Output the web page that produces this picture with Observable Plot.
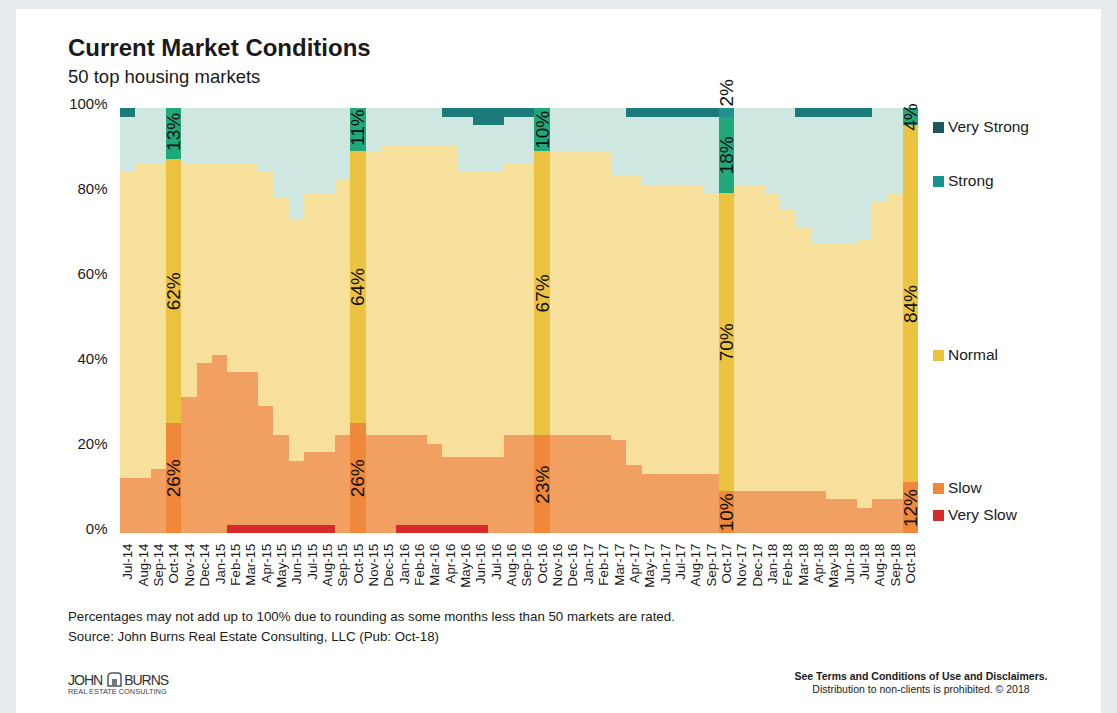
<!DOCTYPE html>
<html><head><meta charset="utf-8">
<script src="https://cdn.jsdelivr.net/npm/d3@7"></script>
<script src="https://cdn.jsdelivr.net/npm/@observablehq/plot@0.6"></script>
<style>
html,body{margin:0;padding:0;background:#e6ebf0;}
#page{position:relative;width:1117px;height:713px;overflow:hidden;font-family:"Liberation Sans",Arial,sans-serif;color:#1a1a1a;}
#card{position:absolute;left:16px;top:9px;width:1085px;height:704px;background:#fff;}
#chart{position:absolute;left:16px;top:9px;width:1085px;}
.t{position:absolute;white-space:nowrap;}
.leg{position:absolute;left:933px;height:16px;display:flex;align-items:center;font-size:15.5px;}
.leg i{display:inline-block;width:11px;height:11px;margin-right:4px;}
</style></head>
<body>
<div id="page">
  <div id="card"></div>
  <div id="chart"></div>
  <div class="t" style="left:68px;top:35.5px;font-size:24px;line-height:24px;font-weight:bold;">Current Market Conditions</div>
  <div class="t" style="left:68px;top:68px;font-size:18.5px;line-height:18.5px;">50 top housing markets</div>
  <div id="legend"></div>
  <div class="t" style="left:68px;top:610px;font-size:13.3px;line-height:13.3px;">Percentages may not add up to 100% due to rounding as some months less than 50 markets are rated.</div>
  <div class="t" style="left:68px;top:630px;font-size:13.3px;line-height:13.3px;">Source: John Burns Real Estate Consulting, LLC (Pub: Oct-18)</div>
  <div class="t" style="left:68px;top:672px;font-size:14px;line-height:14px;letter-spacing:-1px;color:#333;display:flex;align-items:center;">JOHN<svg width="16" height="15" style="margin:0 2px 0 4px"><path d="M2 14 V5 Q2 1 6 1 H12 Q15 1 15 4 V14 Z" fill="#fff" stroke="#555" stroke-width="1.5"/><path d="M6 14 V7 H11 V14" fill="#777"/></svg>BURNS</div>
  <div class="t" style="left:68px;top:688px;font-size:7.4px;line-height:7.4px;color:#444;">REAL ESTATE CONSULTING</div>
  <div class="t" style="left:921px;top:671px;font-size:10.5px;line-height:10.5px;font-weight:bold;transform:translateX(-50%);">See Terms and Conditions of Use and Disclaimers.</div>
  <div class="t" style="left:921px;top:684px;font-size:10.5px;line-height:10.5px;transform:translateX(-50%);">Distribution to non-clients is prohibited. © 2018</div>
</div>
<script>
const months = ["Jul-14","Aug-14","Sep-14","Oct-14","Nov-14","Dec-14","Jan-15","Feb-15","Mar-15","Apr-15","May-15","Jun-15","Jul-15","Aug-15","Sep-15","Oct-15",
  "Nov-15","Dec-15","Jan-16","Feb-16","Mar-16","Apr-16","May-16","Jun-16","Jul-16","Aug-16","Sep-16","Oct-16",
  "Nov-16","Dec-16","Jan-17","Feb-17","Mar-17","Apr-17","May-17","Jun-17","Jul-17","Aug-17","Sep-17","Oct-17",
  "Nov-17","Dec-17","Jan-18","Feb-18","Mar-18","Apr-18","May-18","Jun-18","Jul-18","Aug-18","Sep-18","Oct-18"];
const categories = ["Very Slow","Slow","Normal","Strong","Very Strong"];
const verySlow   = [0,0,0,0,0,0,0,2,2,2,2,2,2,2,0,0, 0,0,2,2,2,2,2,2,0,0,0,0, 0,0,0,0,0,0,0,0,0,0,0,0, 0,0,0,0,0,0,0,0,0,0,0,0];
const slow       = [13,13,15,26,32,40,42,36,36,28,21,15,17,17,23,26, 23,23,21,21,19,16,16,16,18,23,23,23, 23,23,23,23,22,16,14,14,14,14,14,10, 10,10,10,10,10,10,8,8,6,8,8,12];
const normal     = [72,74,72,62,55,47,45,49,49,55,56,57,61,61,60,64, 67,68,68,68,70,73,67,67,67,64,64,67, 67,67,67,67,62,68,68,68,68,68,66,70, 72,72,70,66,62,58,60,60,63,70,72,84];
const strong     = [13,13,13,13,13,13,13,13,13,15,21,26,20,20,17,11, 10,9,9,9,9,7,13,11,11,11,11,10, 10,10,10,10,16,14,16,16,16,16,18,18, 18,18,20,24,26,30,30,30,29,22,20,4];
const veryStrong = [2,0,0,0,0,0,0,0,0,0,0,0,0,0,0,0, 0,0,0,0,0,2,2,4,4,2,2,0, 0,0,0,0,0,2,2,2,2,2,2,2, 0,0,0,0,2,2,2,2,2,0,0,0];
const highlighted = ["Oct-14","Oct-15","Oct-16","Oct-17","Oct-18"];

const paleColors   = {"Very Slow":"#d62a2b","Slow":"#f2a062","Normal":"#f7e09b","Strong":"#cee8e1","Very Strong":"#1b7b7b"};
const brightColors = {"Very Slow":"#d62a2b","Slow":"#ef8838","Normal":"#ecc340","Strong":"#20a87a","Very Strong":"#22908c"};
const legendLabels = ["Very Strong","Strong","Normal","Slow","Very Slow"];
const legendColors = ["#1b5756","#1b918e","#ecc340","#ef8838","#d62a2b"];
const legendTops   = [119,173,347,480,507];

const series = [verySlow, slow, normal, strong, veryStrong];
const rows = [];
months.forEach((m, i) => {
  categories.forEach((c, k) => {
    rows.push({month: m, cat: c, value: series[k][i], hl: highlighted.includes(m)});
  });
});

const plot = Plot.plot({
  width: 1085, height: 600,
  marginLeft: 104, marginRight: 183, marginTop: 99, marginBottom: 76,
  style: {fontFamily: "Liberation Sans, Arial, sans-serif", color: "#1a1a1a", background: "transparent"},
  x: {domain: months, padding: 0, round: false},
  y: {domain: [0, 100]},
  color: {type: "identity"},
  marks: [
    Plot.barY(rows, Plot.stackY({x: "month", y: "value", z: "cat", fill: d => (d.hl ? brightColors : paleColors)[d.cat], clip: true, shapeRendering: "crispEdges"})),
    Plot.text(rows, Plot.stackY({x: "month", y: "value", z: "cat",
      text: d => d.hl && d.cat !== "Very Strong" && d.value > 0 ? d.value + "%" : null,
      rotate: -90, fontSize: 19, fill: "#111"})),
    Plot.text(rows, Plot.stackY2({x: "month", y: "value", z: "cat",
      text: d => d.hl && d.cat === "Very Strong" && d.value > 0 ? d.value + "%" : null,
      rotate: -90, textAnchor: "start", dy: -2, fontSize: 19, fill: "#111"})),
    Plot.axisX({tickRotate: -90, tickSize: 0, tickPadding: 10, fontSize: 13.3, label: null}),
    Plot.axisY({ticks: [0,20,40,60,80,100], tickFormat: d => d + "%", tickSize: 0, tickPadding: 13, fontSize: 15, dy: -4, label: null})
  ]
});
document.getElementById("chart").appendChild(plot);

const leg = document.getElementById("legend");
legendLabels.forEach((l, i) => {
  const d = document.createElement("div");
  d.className = "leg";
  d.style.top = legendTops[i] + "px";
  d.innerHTML = `<i style="background:${legendColors[i]}"></i>${l}`;
  leg.appendChild(d);
});
</script>
</body></html>
